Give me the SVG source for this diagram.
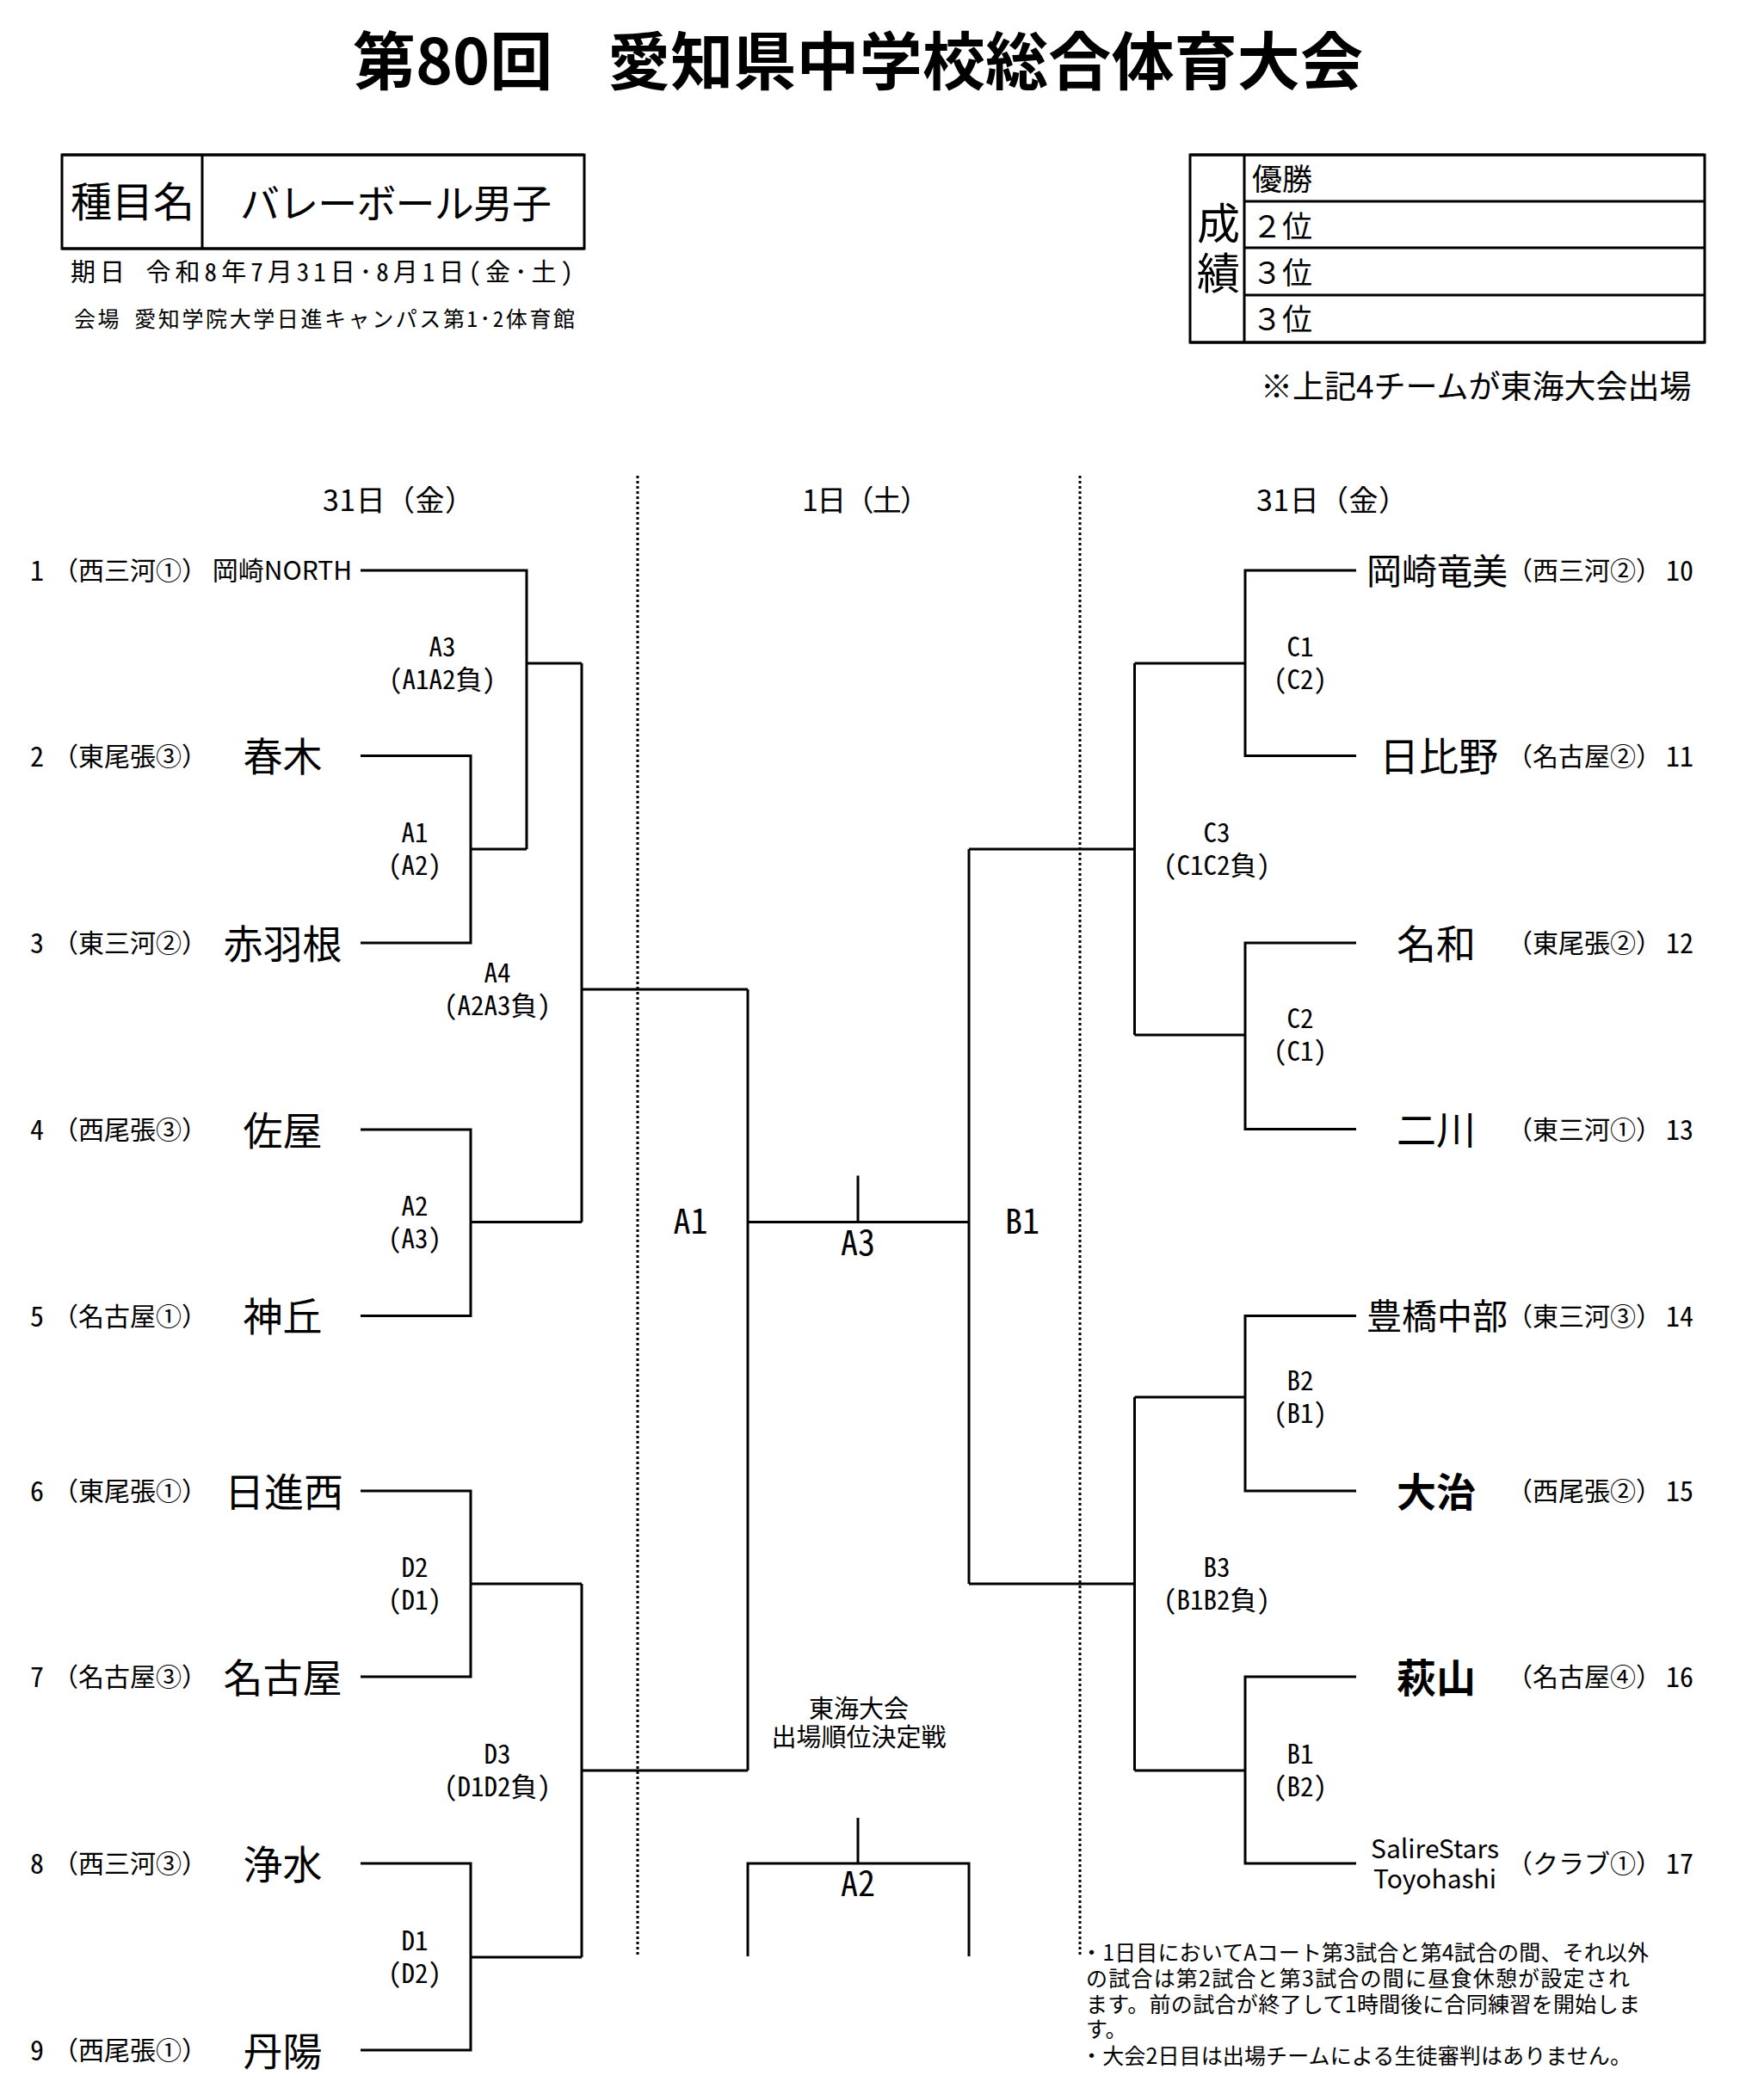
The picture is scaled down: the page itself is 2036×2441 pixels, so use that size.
<svg xmlns="http://www.w3.org/2000/svg" width="2036" height="2441" viewBox="0 0 2036 2441">
<style>
text { font-family: "Noto Sans CJK JP", "Noto Sans", sans-serif; fill: #000; }
.hw { font-feature-settings: "hwid" 1; }
.num { font-size: 32px; text-anchor: middle; }
.reg { font-size: 30px; text-anchor: middle; }
.nm { font-size: 46px; text-anchor: middle; }
.nm4 { font-size: 41px; text-anchor: middle; }
.lb { font-size: 31px; text-anchor: middle; }
.big { font-size: 40px; text-anchor: middle; }
.hd { font-size: 34px; }
.note { font-size: 25px; }
.ln { stroke: #000; stroke-width: 3; fill: none; }
.dot { stroke: #000; stroke-width: 3; stroke-dasharray: 3 3; fill: none; }
.box { stroke: #000; stroke-width: 3; fill: none; }
</style>
<rect x="0" y="0" width="2036" height="2441" fill="#fff"/>

<g id="title">
<text x="410" y="98" font-size="73" font-weight="bold">第80回</text>
<text x="706" y="98" font-size="73" font-weight="bold" textLength="878">愛知県中学校総合体育大会</text>
</g>

<g id="event-box">
<rect class="box" x="72" y="180" width="607" height="109"/>
<line class="ln" x1="72" y1="180" x2="679" y2="180" stroke-width="5"/>
<line class="ln" x1="72" y1="289" x2="679" y2="289" stroke-width="5"/>
<line class="ln" x1="235" y1="180" x2="235" y2="289"/>
<text x="82" y="252" font-size="48">種目名</text>
<text x="279" y="253" font-size="46" textLength="362">バレーボール男子</text>
</g>

<g id="info">
<text x="82" y="327" font-size="29" class="hw" textLength="584">期日　令和8年7月31日･8月1日(金･土)</text>
<text x="86" y="380" font-size="25" class="hw" textLength="582">会場　愛知学院大学日進キャンパス第1･2体育館</text>
</g>

<g id="results-box">
<rect class="box" x="1383" y="180" width="598" height="218"/>
<line class="ln" x1="1383" y1="180" x2="1981" y2="180" stroke-width="5"/>
<line class="ln" x1="1383" y1="398" x2="1981" y2="398" stroke-width="5"/>
<line class="ln" x1="1446" y1="180" x2="1446" y2="398"/>
<line class="ln" x1="1446" y1="234" x2="1981" y2="234" stroke-width="4"/>
<line class="ln" x1="1446" y1="288" x2="1981" y2="288" stroke-width="4"/>
<line class="ln" x1="1446" y1="343" x2="1981" y2="343" stroke-width="4"/>
<text x="1416" y="278" font-size="50" text-anchor="middle">成</text>
<text x="1416" y="336" font-size="50" text-anchor="middle">績</text>
<text x="1455" y="221" font-size="35">優勝</text>
<text x="1455" y="276" font-size="35">２位</text>
<text x="1455" y="330" font-size="35">３位</text>
<text x="1455" y="384" font-size="35">３位</text>
</g>

<g id="results-note">
<text x="1465" y="463" font-size="37">※上記4チームが東海大会出場</text>
</g>

<g id="day-headers">
<text class="hd" x="375" y="594" textLength="176">31日（金）</text>
<text class="hd" x="932" y="594" textLength="148">1日（土）</text>
<text class="hd" x="1460" y="594" textLength="176">31日（金）</text>
</g>

<g id="connectors">
<line class="dot" x1="741" y1="553" x2="741" y2="2274"/>
<line class="dot" x1="1255" y1="553" x2="1255" y2="2274"/>
<path class="ln" d="M419 663 H612 V987 M547 987 H612 M612 771 H676"/>
<path class="ln" d="M419 878.5 H547 V1096 H419"/>
<path class="ln" d="M419 1313 H547 V1529.5 H419 M547 1420.5 H676 M676 771 V1420.5 M676 1150 H869"/>
<path class="ln" d="M419 1733 H547 V1949 H419 M547 1841 H676"/>
<path class="ln" d="M419 2166 H547 V2383 H419 M547 2275 H676 M676 1841 V2275 M676 2058 H869"/>
<path class="ln" d="M869 1150 V2058 M869 1420.5 H1126 M997 1366.5 V1420.5 M1126 987 V1841"/>
<path class="ln" d="M869 2274 V2166 H1126 V2274 M997 2113 V2166"/>
<path class="ln" d="M1126 987 H1318.5 M1318.5 771 V1203 M1318.5 771 H1447 M1576 663 H1447 V878.5 H1576 M1318.5 1203 H1447 M1576 1096 H1447 V1312.5 H1576"/>
<path class="ln" d="M1126 1841 H1318.5 M1318.5 1624 V2058 M1318.5 1624 H1447 M1576 1529.5 H1447 V1733 H1576 M1318.5 2058 H1447 M1576 1949 H1447 V2166 H1576"/>
</g>

<g id="team-1"><text class="num hw" x="43" y="675">1</text><text class="reg" x="151" y="674">（西三河①）</text><text x="328" y="674" font-size="30" text-anchor="middle">岡崎NORTH</text></g>
<g id="team-2"><text class="num hw" x="43" y="890.5">2</text><text class="reg" x="151" y="889.5">（東尾張③）</text><text class="nm" x="328.5" y="896">春木</text></g>
<g id="team-3"><text class="num hw" x="43" y="1108">3</text><text class="reg" x="151" y="1107">（東三河②）</text><text class="nm" x="328.5" y="1113.5">赤羽根</text></g>
<g id="team-4"><text class="num hw" x="43" y="1325">4</text><text class="reg" x="151" y="1324">（西尾張③）</text><text class="nm" x="328.5" y="1330.5">佐屋</text></g>
<g id="team-5"><text class="num hw" x="43" y="1541.5">5</text><text class="reg" x="151" y="1540.5">（名古屋①）</text><text class="nm" x="328.5" y="1547">神丘</text></g>
<g id="team-6"><text class="num hw" x="43" y="1745">6</text><text class="reg" x="151" y="1744">（東尾張①）</text><text class="nm" x="330" y="1750.5">日進西</text></g>
<g id="team-7"><text class="num hw" x="43" y="1961">7</text><text class="reg" x="151" y="1960">（名古屋③）</text><text class="nm" x="328.5" y="1966.5">名古屋</text></g>
<g id="team-8"><text class="num hw" x="43" y="2178">8</text><text class="reg" x="151" y="2177">（西三河③）</text><text class="nm" x="328.5" y="2183.5">浄水</text></g>
<g id="team-9"><text class="num hw" x="43" y="2395">9</text><text class="reg" x="151" y="2394">（西尾張①）</text><text class="nm" x="328.5" y="2400.5">丹陽</text></g>

<g id="team-10"><text class="nm4" x="1670" y="678.5">岡崎竜美</text><text class="reg" x="1841" y="674">（西三河②）</text><text class="num hw" x="1952" y="675">10</text></g>
<g id="team-11"><text class="nm" x="1672" y="896">日比野</text><text class="reg" x="1841" y="889.5">（名古屋②）</text><text class="num hw" x="1952" y="890.5">11</text></g>
<g id="team-12"><text class="nm" x="1669" y="1113.5">名和</text><text class="reg" x="1841" y="1107">（東尾張②）</text><text class="num hw" x="1952" y="1108">12</text></g>
<g id="team-13"><text class="nm" x="1669" y="1330">二川</text><text class="reg" x="1841" y="1323.5">（東三河①）</text><text class="num hw" x="1952" y="1324.5">13</text></g>
<g id="team-14"><text class="nm4" x="1670" y="1545">豊橋中部</text><text class="reg" x="1841" y="1540.5">（東三河③）</text><text class="num hw" x="1952" y="1541.5">14</text></g>
<g id="team-15"><text class="nm" x="1669" y="1750.5" font-weight="bold">大治</text><text class="reg" x="1841" y="1744">（西尾張②）</text><text class="num hw" x="1952" y="1745">15</text></g>
<g id="team-16"><text class="nm" x="1669" y="1966.5" font-weight="bold">萩山</text><text class="reg" x="1841" y="1960">（名古屋④）</text><text class="num hw" x="1952" y="1961">16</text></g>
<g id="team-17"><text x="1667.5" y="2160" font-size="30" text-anchor="middle">SalireStars</text><text x="1667.5" y="2195" font-size="30" text-anchor="middle">Toyohashi</text><text class="reg" x="1841" y="2177">（クラブ①）</text><text class="num hw" x="1952" y="2178">17</text></g>

<g id="match-labels" class="hw">
<g id="m-A3"><text class="lb" x="514" y="763">A3</text><text class="lb" x="514" y="801">（A1A2負）</text></g>
<g id="m-A1"><text class="lb" x="482" y="979">A1</text><text class="lb" x="482" y="1017">（A2）</text></g>
<g id="m-A4"><text class="lb" x="578" y="1142">A4</text><text class="lb" x="578" y="1180">（A2A3負）</text></g>
<g id="m-A2"><text class="lb" x="482" y="1412.5">A2</text><text class="lb" x="482" y="1450.5">（A3）</text></g>
<g id="m-D2"><text class="lb" x="482" y="1833">D2</text><text class="lb" x="482" y="1871">（D1）</text></g>
<g id="m-D3"><text class="lb" x="578" y="2050">D3</text><text class="lb" x="578" y="2088">（D1D2負）</text></g>
<g id="m-D1"><text class="lb" x="482" y="2267">D1</text><text class="lb" x="482" y="2305">（D2）</text></g>
<g id="m-C1"><text class="lb" x="1511" y="763">C1</text><text class="lb" x="1511" y="801">（C2）</text></g>
<g id="m-C3"><text class="lb" x="1414" y="979">C3</text><text class="lb" x="1414" y="1017">（C1C2負）</text></g>
<g id="m-C2"><text class="lb" x="1511" y="1195">C2</text><text class="lb" x="1511" y="1233">（C1）</text></g>
<g id="m-B2"><text class="lb" x="1511" y="1616">B2</text><text class="lb" x="1511" y="1654">（B1）</text></g>
<g id="m-B3"><text class="lb" x="1414" y="1833">B3</text><text class="lb" x="1414" y="1871">（B1B2負）</text></g>
<g id="m-B1"><text class="lb" x="1511" y="2050">B1</text><text class="lb" x="1511" y="2088">（B2）</text></g>
<g id="c-A1"><text class="big" x="802.5" y="1434">A1</text></g>
<g id="c-B1"><text class="big" x="1188" y="1434">B1</text></g>
<g id="c-A3"><text class="big" x="997" y="1459">A3</text></g>
<g id="c-A2"><text class="big" x="997" y="2204">A2</text></g>
</g>

<g id="tokai-label">
<text x="998" y="1997" font-size="29" text-anchor="middle">東海大会</text>
<text x="998" y="2030" font-size="29" text-anchor="middle">出場順位決定戦</text>
</g>

<g id="notes">
<text class="note" x="1256" y="2279" textLength="660">・1日目においてAコート第3試合と第4試合の間、それ以外</text>
<text class="note" x="1262" y="2309" textLength="632">の試合は第2試合と第3試合の間に昼食休憩が設定され</text>
<text class="note" x="1262" y="2339" textLength="644">ます。前の試合が終了して1時間後に合同練習を開始しま</text>
<text class="note" x="1262" y="2368">す。</text>
<text class="note" x="1256" y="2399" textLength="640">・大会2日目は出場チームによる生徒審判はありません。</text>
</g>
</svg>
